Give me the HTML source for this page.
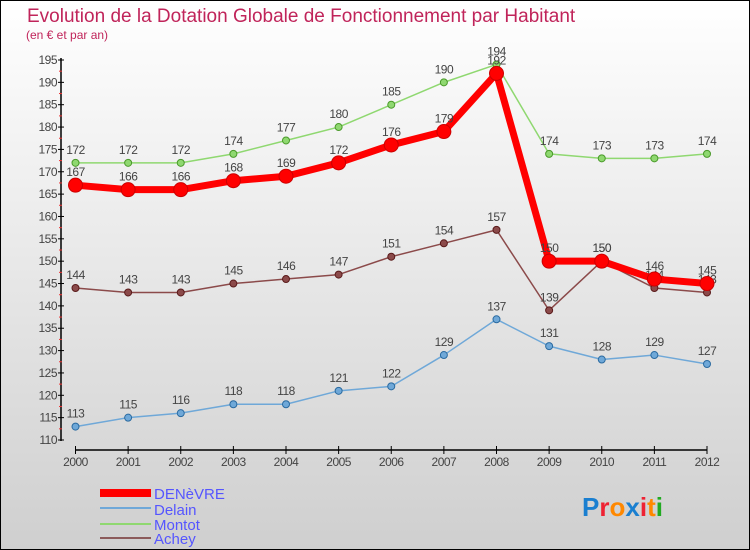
<!DOCTYPE html>
<html><head><meta charset="utf-8"><style>
html,body{margin:0;padding:0}
body{width:750px;height:550px;overflow:hidden;font-family:"Liberation Sans",sans-serif}
#c{position:absolute;left:0;top:0;width:748px;height:548px;border:1px solid #000;background:linear-gradient(#fff,#cfcfcf)}
</style></head><body>
<div id="c">
<svg id="s" width="750" height="550" style="position:absolute;left:-1px;top:-1px">
<text x="27" y="22" font-size="19" fill="#c0245a">Evolution de la Dotation Globale de Fonctionnement par Habitant</text>
<text x="26" y="39" font-size="12" fill="#c0245a">(en € et par an)</text>
<g id="axes"></g><g id="series"></g>
<g>
<rect x="100" y="489" width="51" height="8" fill="#f00"/>
<line x1="100" y1="508" x2="151" y2="508" stroke="#6fa8d8" stroke-width="2"/>
<line x1="100" y1="524" x2="151" y2="524" stroke="#8fd870" stroke-width="2"/>
<line x1="100" y1="538" x2="151" y2="538" stroke="#8b5a5a" stroke-width="2"/>
<text x="154" y="499" font-size="15" fill="#5555ff">DENèVRE</text>
<text x="154" y="515" font-size="15" fill="#5555ff">Delain</text>
<text x="154" y="530" font-size="15" fill="#5555ff">Montot</text>
<text x="154" y="544" font-size="15" fill="#5555ff">Achey</text>
</g>
<text x="582" y="516" font-size="26" font-weight="bold"><tspan fill="#1a7fd0">P</tspan><tspan fill="#e23">r</tspan><tspan fill="#f80">o</tspan><tspan fill="#1a7fd0">x</tspan><tspan fill="#e23">i</tspan><tspan fill="#f80">t</tspan><tspan fill="#2a2">i</tspan></text>
</svg></div>
<script>
const years=[2000,2001,2002,2003,2004,2005,2006,2007,2008,2009,2010,2011,2012];
const denevre=[167,166,166,168,169,172,176,179,192,150,150,146,145];
const delain=[113,115,116,118,118,121,122,129,137,131,128,129,127];
const montot=[172,172,172,174,177,180,185,190,194,174,173,173,174];
const achey=[144,143,143,145,146,147,151,154,157,139,150,144,143];
const yTicks=[110,115,120,125,130,135,140,145,150,155,160,165,170,175,180,185,190,195];
const NS='http://www.w3.org/2000/svg';
const X=i=>75.5+i*(707-75.5)/12;
const Y=v=>440-(v-110)*(380/85);
function el(t,a,p){const e=document.createElementNS(NS,t);for(const k in a)e.setAttribute(k,a[k]);p.appendChild(e);return e;}
const ax=document.getElementById('axes'),sg=document.getElementById('series');
let e=el('line',{x1:61,y1:58,x2:61,y2:441,stroke:'#000','stroke-width':1.5},ax);


const yMax=yTicks[yTicks.length-1];
yTicks.forEach(v=>{
 el('line',{x1:58,y1:Y(v),x2:64,y2:Y(v),stroke:'#000'},ax);
 if(v<yMax) el('line',{x1:59,y1:Y(v+2.5),x2:62,y2:Y(v+2.5),stroke:'#e33'},ax);
 const t=el('text',{x:57,y:Y(v)+4,'font-size':12,fill:'#444','text-anchor':'end','letter-spacing':'-0.5'},ax);t.textContent=v;
 
 
});
e=el('line',{x1:75,y1:450,x2:707,y2:450,stroke:'#000','stroke-width':1.5},ax);


years.forEach((y,i)=>{
 el('line',{x1:X(i),y1:446,x2:X(i),y2:454,stroke:'#000'},ax);
 const t=el('text',{x:X(i),y:466,'font-size':12,fill:'#444','text-anchor':'middle','letter-spacing':'-0.5'},ax);t.textContent=y;
 
 
});
function series(d,name,col,w,r,stroke){
 const g=el('g',{},sg);
 
 
 el('polyline',{points:d.map((v,i)=>X(i)+','+Y(v)).join(' '),fill:'none',stroke:col,'stroke-width':w,'stroke-linejoin':'round'},g);
 d.forEach((v,i)=>{
  const c=el('circle',{cx:X(i),cy:Y(v),r:r,fill:col,stroke:stroke,'stroke-width':1},g);
  
  
  const t=el('text',{x:X(i),y:Y(v)-9,'font-size':12,fill:'#444','text-anchor':'middle','letter-spacing':'-0.5'},g);t.textContent=v;
  
  
 });
}
series(delain,'delain','#6fa8d8',1.5,3.5,'#2a6aa0');
series(montot,'montot','#8fd870',1.5,3.5,'#4a9a2a');
series(achey,'achey','#8b4a4a',1.5,3.5,'#5a1a1a');
series(denevre,'denevre','#f00',7,7,'#c00');
</script>
</body></html>
